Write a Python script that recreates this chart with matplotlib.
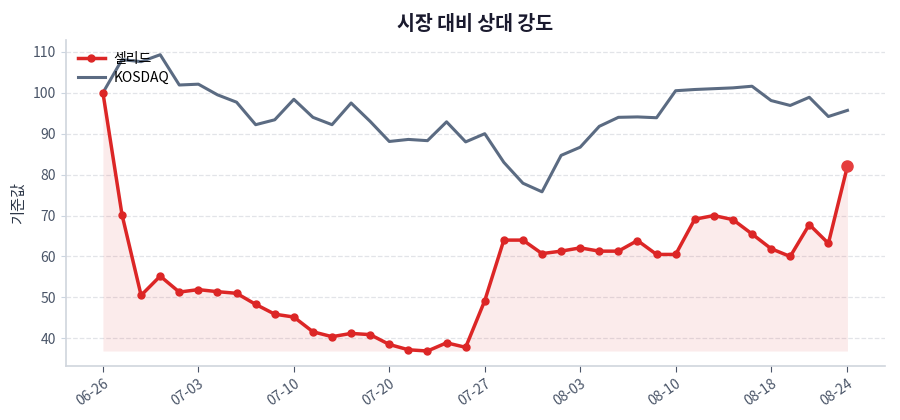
import numpy as np
import matplotlib.pyplot as plt

plt.rcParams["font.family"] = ["Noto Sans CJK KR", "DejaVu Sans"]

dates = [
    "06-26", "06-27", "06-30", "07-01", "07-02", "07-03", "07-04", "07-07",
    "07-08", "07-09", "07-10", "07-11", "07-14", "07-15", "07-17", "07-20",
    "07-21", "07-22", "07-23", "07-24", "07-27", "07-28", "07-29", "07-30",
    "07-31", "08-03", "08-04", "08-05", "08-06", "08-07", "08-10", "08-11",
    "08-12", "08-13", "08-14", "08-18", "08-19", "08-20", "08-21", "08-24",
]
stock = [
    100, 70.2, 50.5, 55.2, 51.3, 51.9, 51.4, 51.0, 48.3, 45.9,
    45.2, 41.6, 40.4, 41.2, 40.9, 38.5, 37.2, 36.9, 38.9, 37.8,
    49.2, 64.0, 64.0, 60.7, 61.3, 62.1, 61.3, 61.3, 63.9, 60.5,
    60.5, 69.1, 70.0, 69.0, 65.5, 61.9, 60.0, 67.8, 63.2, 82.1,
]
kosdaq = [
    100, 108.1, 107.6, 109.3, 101.9, 102.1, 99.5, 97.7, 92.2, 93.4,
    98.4, 94.0, 92.2, 97.5, 93.0, 88.1, 88.6, 88.3, 92.9, 88.0,
    90.0, 83.0, 77.9, 75.8, 84.7, 86.7, 91.8, 94.0, 94.1, 93.9,
    100.5, 100.8, 101.0, 101.2, 101.6, 98.1, 96.9, 98.9, 94.2, 95.7,
]
stock_name = "셀리드"
index_name = "KOSDAQ"

x = np.arange(len(dates))
red = "#dc2626"
slate = "#5b6b82"

fig = plt.figure(figsize=(9, 4.2), dpi=100)
ax = fig.add_axes([0.073, 0.129, 0.910, 0.776])

ax.fill_between(x, stock, min(stock), color=red, alpha=0.09, linewidth=0)
ax.plot(x, stock, color=red, linewidth=2.5, marker="o", markersize=5, label=stock_name, zorder=3)
ax.plot(x, kosdaq, color=slate, linewidth=2.2, label=index_name, zorder=2)
ax.plot(x[-1], stock[-1], "o", color="#e53e3e", markersize=8, zorder=4)

tick_idx = list(range(0, len(dates), 5)) + [len(dates) - 1]
ax.set_xticks(tick_idx)
ax.set_xticklabels([dates[i] for i in tick_idx], rotation=35, ha="right",
                   rotation_mode="anchor", fontsize=10, color="#4a5568")
ax.set_yticks([40, 50, 60, 70, 80, 90, 100, 110])
ax.tick_params(axis="y", labelsize=10, labelcolor="#4a5568", color="#cbd5e0")
ax.tick_params(axis="x", color="#4a5568", length=4)

ax.grid(axis="y", linestyle="--", color="#e2e4e8", linewidth=0.9)
ax.set_axisbelow(True)
for s in ["top", "right"]:
    ax.spines[s].set_visible(False)
for s in ["left", "bottom"]:
    ax.spines[s].set_color("#d0d5dd")
    ax.spines[s].set_linewidth(1.2)

ax.set_ylabel("기준값", fontsize=11, color="#2d3748")
ax.set_title("시장 대비 상대 강도", fontsize=14, fontweight="bold", color="#1a1a2e", pad=7)
ax.legend(loc="upper left", frameon=False, fontsize=10, borderaxespad=0.45,
          handlelength=2.0, labelspacing=0.4, handletextpad=0.6)

fig.savefig("out.png", dpi=100)
